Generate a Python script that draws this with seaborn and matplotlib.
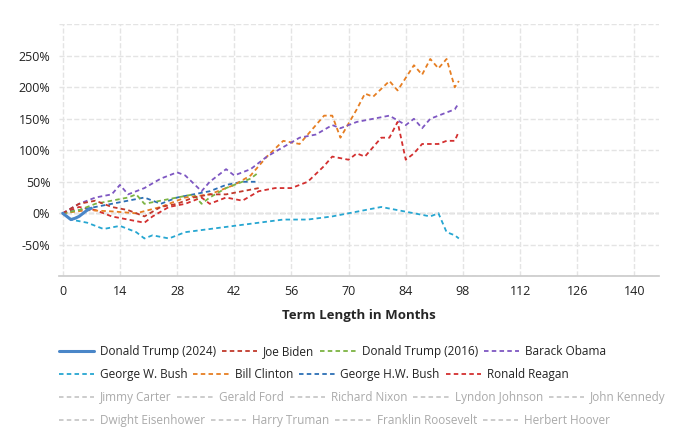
import matplotlib
matplotlib.use('Agg')
import matplotlib.pyplot as plt
import seaborn as sns
import pandas as pd
from matplotlib.lines import Line2D

sns.set_theme(style='white')
plt.rcParams['font.family'] = ['Open Sans', 'DejaVu Sans']

trump24_m = [0, 1, 2, 3, 4, 5, 6, 7]
trump24_v = [0, -5, -10, -8, -5, 0, 5, 8]
biden_m = [0, 4, 8, 12, 16, 20, 24, 28, 32, 36, 40, 44, 48]
biden_v = [0, 15, 20, 10, 5, -5, 10, 15, 25, 30, 30, 35, 40]
trump16_m = [0, 4, 8, 12, 16, 18, 20, 24, 28, 32, 34, 36, 40, 44, 46, 48]
trump16_v = [0, 5, 15, 20, 25, 30, 15, 20, 25, 30, 15, 25, 40, 50, 55, 65]
obama_m = [0, 4, 8, 12, 14, 16, 20, 24, 28, 30, 34, 36, 40, 42, 46, 50, 54, 58, 62, 66, 68, 72,
           76, 80, 84, 86, 88, 90, 94, 96, 97]
obama_v = [0, 15, 25, 30, 45, 30, 40, 55, 65, 60, 35, 50, 70, 60, 70, 90, 105, 120, 125, 140, 135,
           145, 150, 155, 140, 150, 135, 150, 160, 165, 175]
gwbush_m = [0, 2, 6, 10, 14, 18, 20, 22, 26, 30, 36, 42, 48, 54, 60, 66, 70, 74, 78, 82, 86, 90,
            92, 94, 96, 97]
gwbush_v = [0, -10, -15, -25, -20, -30, -40, -35, -40, -30, -25, -20, -15, -10, -10, -5, 0, 5, 10,
            5, 0, -5, 0, -30, -35, -40]
clinton_m = [0, 6, 12, 18, 24, 30, 36, 42, 46, 50, 54, 58, 62, 64, 66, 68, 72, 74, 76, 80, 82, 86,
             88, 90, 92, 94, 96, 97]
clinton_v = [0, 5, 3, 0, 10, 25, 30, 45, 60, 90, 115, 110, 140, 155, 155, 120, 165, 190, 185, 210,
             195, 235, 220, 245, 230, 245, 200, 210]
ghwbush_m = [0, 4, 8, 12, 16, 20, 24, 28, 32, 36, 40, 44, 48]
ghwbush_v = [0, 5, 10, 15, 20, 25, 15, 25, 30, 35, 45, 50, 50]
reagan_m = [0, 4, 8, 12, 16, 20, 22, 26, 30, 34, 36, 40, 44, 48, 52, 56, 60, 64, 66, 70, 72, 74,
            78, 80, 82, 84, 86, 88, 92, 94, 96, 97]
reagan_v = [0, 10, 5, -5, -10, -15, -5, 10, 15, 25, 15, 25, 20, 35, 40, 40, 50, 75, 90, 85, 95, 90,
            120, 120, 145, 85, 95, 110, 110, 115, 115, 130]

series = [
    ('Donald Trump (2024)', trump24_m, trump24_v, '#4a86c8', '-'),
    ('Joe Biden', biden_m, biden_v, '#c0392b', ':'),
    ('Donald Trump (2016)', trump16_m, trump16_v, '#7cb342', ':'),
    ('Barack Obama', obama_m, obama_v, '#7e57c2', ':'),
    ('George W. Bush', gwbush_m, gwbush_v, '#26a6d1', ':'),
    ('Bill Clinton', clinton_m, clinton_v, '#e67e22', ':'),
    ('George H.W. Bush', ghwbush_m, ghwbush_v, '#2c6fb5', ':'),
    ('Ronald Reagan', reagan_m, reagan_v, '#d32f2f', ':'),
]
empty = ['Jimmy Carter', 'Gerald Ford', 'Richard Nixon', 'Lyndon Johnson', 'John Kennedy',
         'Dwight Eisenhower', 'Harry Truman', 'Franklin Roosevelt', 'Herbert Hoover']

DASH = (0, (2.5, 1.8))

fig, ax = plt.subplots(figsize=(6.9, 4.42), dpi=100)
fig.subplots_adjust(left=0.085, right=0.955, top=0.945, bottom=0.375)

handles = []
for name, m, v, c, ls in reversed(series):
    df = pd.DataFrame({'m': m, 'v': v})
    sns.lineplot(data=df, x='m', y='v', ax=ax, color=c, linestyle='-' if ls == '-' else DASH,
                 linewidth=2.2 if ls == '-' else 1.3)
for name, m, v, c, ls in series:
    handles.append(Line2D([], [], color=c, linestyle='-' if ls == '-' else DASH,
                          linewidth=2.2 if ls == '-' else 1.3, label=name))
for name in empty:
    handles.append(Line2D([], [], color='#c8c8c8', linestyle=DASH, linewidth=1.3, label=name))

ax.axhline(0, color='#bbbbbb', linestyle='--', linewidth=1, zorder=0)
ax.set_xlim(-1, 146)
ax.set_ylim(-100, 300)
ax.set_xticks(range(0, 141, 14))
ax.set_yticks(range(-50, 251, 50))
ax.set_yticklabels(['%d%%' % t for t in range(-50, 251, 50)])
ax.grid(True, color='#e4e4e4', linestyle='--', linewidth=1)
for t in [-100, 300]:
    ax.axhline(t, color='#e4e4e4', linestyle='--', linewidth=1, zorder=0)
for s in ['top', 'right', 'left']:
    ax.spines[s].set_visible(False)
ax.spines['bottom'].set_color('#cccccc')
ax.tick_params(axis='both', labelsize=9, colors='#222222', length=0, pad=6)
ax.set_xlabel('Term Length in Months', fontsize=9.5, fontweight='bold', labelpad=8)
ax.set_ylabel('')

# flow layout legend: one legend per row
rows = [handles[0:4], handles[4:8], handles[8:13], handles[13:17]]
ys = [0.205, 0.153, 0.101, 0.049]
for row, y in zip(rows, ys):
    leg = fig.legend(handles=row, loc='center left', bbox_to_anchor=(0.085, y), ncol=len(row),
                     frameon=False, fontsize=8.5, handlelength=3.0, columnspacing=0.5,
                     handletextpad=0.5, borderaxespad=0, borderpad=0)
    for txt, h in zip(leg.get_texts(), row):
        txt.set_color('#aaaaaa' if h.get_label() in empty else '#222222')

fig.savefig('out.png', dpi=100)
